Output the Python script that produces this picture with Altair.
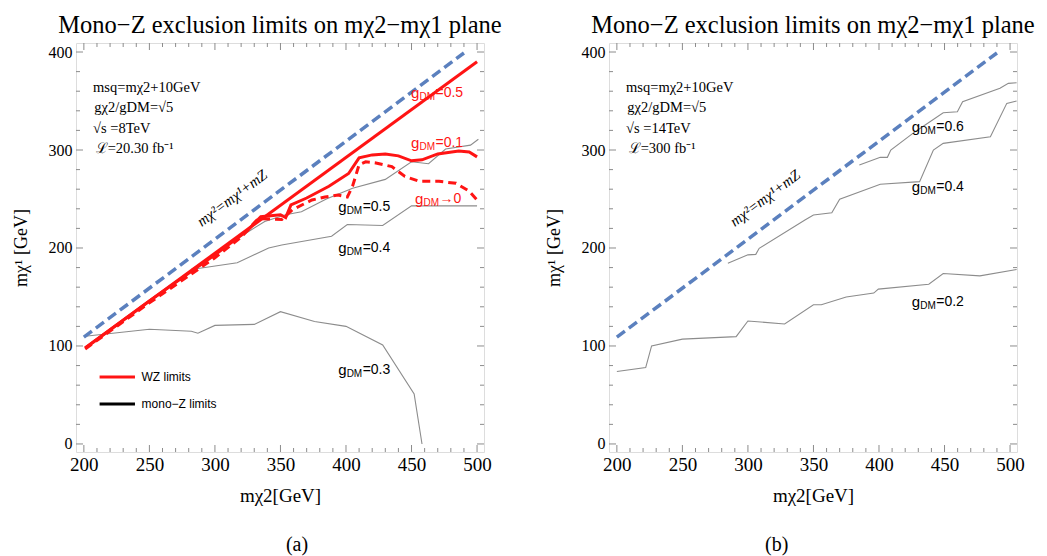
import altair as alt
import pandas as pd

# ---------------- data (GeV) ----------------
# panel (a): WZ limits (red)
a_wz05_x = [201, 500]
a_wz05_y = [98, 390]
a_wz01_x = [201, 250, 300, 325, 335, 350, 354, 358, 370, 387, 402, 410, 420, 430, 440, 450, 458, 470, 486, 494, 500]
a_wz01_y = [98, 146, 193, 218, 232, 234, 231, 244, 251, 263, 276, 292, 295, 296, 294, 289, 290, 296, 299, 298, 293]
a_wz0_x = [201, 250, 300, 320, 333, 351, 359, 374, 384, 394, 401, 405, 410, 415, 422, 435, 445, 456, 471, 484, 494, 500]
a_wz0_y = [97, 144, 190, 211, 230, 229, 239, 249, 252, 254, 252, 263, 285, 288, 287, 283, 273, 268, 268, 266, 258, 249]
# panel (a): mono-Z limits (gray)
a_mz05_x = [282, 320, 338, 354, 366, 385, 405, 430, 450, 463, 476, 495, 501]
a_mz05_y = [178, 212, 227, 234, 237, 250, 261, 270, 288, 286, 301, 305, 311]
a_mz04_x = [282, 317, 341, 351, 389, 401, 428, 450, 500]
a_mz04_y = [178, 185, 200, 203, 212, 224, 223, 243, 243]
a_mz03_x = [201, 250, 282, 287, 300, 330, 350, 376, 400, 428, 452, 458]
a_mz03_y = [110, 117, 115, 113, 121, 122, 135, 125, 120, 101, 51, 0]
# panel (b): mono-Z projections (gray)
b_mz06_x = [385, 401, 406.4, 409, 427.6, 449, 459.8, 463.8, 492.3, 498.7, 505]
b_mz06_y = [284.7, 292.5, 292.5, 300, 318.7, 338, 339, 349.3, 363, 368, 368.7]
b_mz04_x = [284.7, 300, 306, 308.6, 343.5, 350, 364, 370, 401, 431, 441.5, 449, 485, 497.5, 505]
b_mz04_y = [184.5, 193, 193.5, 199.7, 228.6, 233.7, 236, 249.7, 265, 267.7, 300, 306.8, 313.6, 347.6, 350]
b_mz02_x = [200, 222, 226.5, 250, 291, 300, 328, 350, 356, 375, 396, 399.5, 438, 449, 477, 505]
b_mz02_y = [74, 78, 100, 107, 109.5, 125.5, 122.5, 142, 142, 150, 154, 158, 163, 174, 171.5, 178]
# kinematic line m_chi2 = m_chi1 + m_Z
kin_x = [200, 490]
kin_y = [109, 399]

# tick values
x_major = [200, 250, 300, 350, 400, 450, 500]
x_minor = [v for v in range(200, 501, 10) if v % 50 != 0]
y_major = [0, 100, 200, 300, 400]
y_minor = [v for v in range(0, 401, 20) if v % 100 != 0]

# labels
title_txt = "Mono\u2212Z exclusion limits on m\u03c72\u2212m\u03c71 plane"
xtitle = "m\u03c72[GeV]"
ytitle = "m\u03c7\u00b9 [GeV]"
kin_label = "m\u03c7\u00b2=m\u03c7\u00b9+mZ"

a_info = ["msq=m\u03c72+10GeV", "g\u03c72/gDM=\u221a5", "\u221as =8TeV", "\u2112=20.30 fb\u207b\u00b9"]
b_info = ["msq=m\u03c72+10GeV", "g\u03c72/gDM=\u221a5", "\u221as =14TeV", "\u2112=300 fb\u207b\u00b9"]
info_x = [207, 208, 207, 209]
info_y = [363, 343, 321, 301]

a_lab_rest = ["=0.5", "=0.1", "\u21920", "=0.5", "=0.4", "=0.3"]
a_lab_x = [449.6, 449.6, 452.7, 394, 394, 394]
a_lab_y = [358, 307, 250, 242, 200, 75]
a_lab_col = ["red", "red", "red", "black", "black", "black"]
b_lab_rest = ["=0.6", "=0.4", "=0.2"]
b_lab_x = [425, 425, 425]
b_lab_y = [323, 262.5, 145]
b_lab_col = ["black", "black", "black"]

leg_text = ["WZ limits", "mono\u2212Z limits"]
leg_col = ["red", "black"]
leg_y = [68.4, 40.8]

# ---------------- style ----------------
W, H = 408, 409
RED = "#ff1414"
BLUE = "#5b80be"
GRAY = "#8c8c8c"
SERIF = "Liberation Serif"
SANS = "Liberation Sans"
xs = alt.Scale(domain=[194, 505.3], nice=False, zero=False)
ys = alt.Scale(domain=[-8.2, 409.2], nice=False, zero=False)
cscale = alt.Scale(domain=["red", "black"], range=[RED, "black"])


def series_df(pairs):
    rows = []
    for name, xv, yv in pairs:
        for i, (a, b) in enumerate(zip(xv, yv)):
            rows.append({"s": name, "i": i, "x": a, "y": b})
    return pd.DataFrame(rows)


def tick_layers():
    layers = []
    for vals, ln in ((x_major, 7), (x_minor, 4)):
        d = pd.DataFrame({"v": vals})
        layers.append(alt.Chart(d).mark_rule(color=GRAY, strokeWidth=1).encode(
            x=alt.X("v:Q", scale=xs), y=alt.value(H), y2=alt.value(H - ln)))
        layers.append(alt.Chart(d).mark_rule(color=GRAY, strokeWidth=1).encode(
            x=alt.X("v:Q", scale=xs), y=alt.value(0), y2=alt.value(ln)))
    for vals, ln in ((y_major, 7), (y_minor, 4)):
        d = pd.DataFrame({"v": vals})
        layers.append(alt.Chart(d).mark_rule(color=GRAY, strokeWidth=1).encode(
            y=alt.Y("v:Q", scale=ys), x=alt.value(0), x2=alt.value(ln)))
        layers.append(alt.Chart(d).mark_rule(color=GRAY, strokeWidth=1).encode(
            y=alt.Y("v:Q", scale=ys), x=alt.value(W), x2=alt.value(W - ln)))
    return layers


XAX = alt.Axis(values=x_major, ticks=False, domain=False, grid=False,
               labelFont=SERIF, labelFontSize=19, labelColor="black", labelPadding=3,
               title=xtitle, titleFont=SERIF, titleFontSize=19, titleFontWeight="normal",
               titleColor="black", titlePadding=12)
YAX = alt.Axis(values=y_major, ticks=False, domain=False, grid=False,
               labelFont=SERIF, labelFontSize=16, labelColor="black", labelPadding=4,
               title=ytitle, titleFont=SERIF, titleFontSize=18, titleFontWeight="normal",
               titleColor="black", titlePadding=18)


def panel(gray_pairs, red_solid, red_dash, info, labels, caption, caption_x, legend):
    layers = []
    # gray mono-Z curves (carry the axes)
    gdf = series_df(gray_pairs)
    layers.append(alt.Chart(gdf).mark_line(color=GRAY, strokeWidth=1.1).encode(
        x=alt.X("x:Q", scale=xs, axis=XAX), y=alt.Y("y:Q", scale=ys, axis=YAX),
        detail="s:N", order="i:Q"))
    layers.append(alt.Chart(pd.DataFrame({"x": kin_x, "y": kin_y})).mark_line(
        color=BLUE, strokeWidth=3.5, strokeDash=[10, 5]).encode(
        x=alt.X("x:Q", scale=xs), y=alt.Y("y:Q", scale=ys)))
    if red_dash:
        layers.append(alt.Chart(series_df(red_dash)).mark_line(
            color=RED, strokeWidth=3, strokeDash=[8, 5]).encode(
            x=alt.X("x:Q", scale=xs), y=alt.Y("y:Q", scale=ys),
            detail="s:N", order="i:Q"))
    if red_solid:
        layers.append(alt.Chart(series_df(red_solid)).mark_line(
            color=RED, strokeWidth=3).encode(
            x=alt.X("x:Q", scale=xs), y=alt.Y("y:Q", scale=ys),
            detail="s:N", order="i:Q"))
    # info text
    idf = pd.DataFrame({"x": info_x, "y": info_y, "t": info})
    layers.append(alt.Chart(idf).mark_text(align="left", baseline="middle", font=SERIF,
                                           fontSize=14.5, color="black").encode(
        x=alt.X("x:Q", scale=xs), y=alt.Y("y:Q", scale=ys), text="t:N"))
    # kinematic label
    kdf = pd.DataFrame({"x": [313], "y": [251], "t": [kin_label]})
    layers.append(alt.Chart(kdf).mark_text(align="center", baseline="middle", font=SERIF,
                                           fontStyle="italic", fontSize=15, angle=323,
                                           color="black").encode(
        x=alt.X("x:Q", scale=xs), y=alt.Y("y:Q", scale=ys), text="t:N"))
    # curve labels g_DM = ...
    ldf = pd.DataFrame({"x": labels[1], "y": labels[2], "r": labels[0], "c": labels[3],
                        "g": ["g"] * len(labels[0]), "sub": ["DM"] * len(labels[0])})
    col = alt.Color("c:N", scale=cscale, legend=None)
    layers.append(alt.Chart(ldf).mark_text(align="left", baseline="middle", font=SANS,
                                           fontSize=15).encode(
        x=alt.X("x:Q", scale=xs), y=alt.Y("y:Q", scale=ys), text="g:N", color=col))
    layers.append(alt.Chart(ldf).mark_text(align="left", baseline="middle", font=SANS,
                                           fontSize=10, dx=8.5, dy=4).encode(
        x=alt.X("x:Q", scale=xs), y=alt.Y("y:Q", scale=ys), text="sub:N", color=col))
    layers.append(alt.Chart(ldf).mark_text(align="left", baseline="middle", font=SANS,
                                           fontSize=14, dx=24.5).encode(
        x=alt.X("x:Q", scale=xs), y=alt.Y("y:Q", scale=ys), text="r:N", color=col))
    # legend
    if legend:
        gdf2 = pd.DataFrame({"x": [212] * 2, "x2": [239] * 2, "y": leg_y, "c": leg_col,
                             "t": leg_text, "xt": [244] * 2})
        layers.append(alt.Chart(gdf2).mark_rule(strokeWidth=3).encode(
            x=alt.X("x:Q", scale=xs), x2="x2:Q", y=alt.Y("y:Q", scale=ys),
            color=alt.Color("c:N", scale=cscale, legend=None)))
        layers.append(alt.Chart(gdf2).mark_text(align="left", baseline="middle", font=SANS,
                                                fontSize=12, color="black").encode(
            x=alt.X("xt:Q", scale=xs), y=alt.Y("y:Q", scale=ys), text="t:N"))
    # caption
    cdf = pd.DataFrame({"x": [caption_x], "t": [caption]})
    layers.append(alt.Chart(cdf).mark_text(align="center", baseline="middle", font=SERIF,
                                           fontSize=20, color="black").encode(
        x=alt.X("x:Q", scale=xs), y=alt.value(H + 93), text="t:N"))
    layers += tick_layers()
    return alt.layer(*layers).properties(
        width=W, height=H,
        title=alt.TitleParams(title_txt, font=SERIF, fontSize=24.5, fontWeight="normal",
                              color="black", anchor="middle", offset=4))


left = panel(
    [("0.5", a_mz05_x, a_mz05_y), ("0.4", a_mz04_x, a_mz04_y), ("0.3", a_mz03_x, a_mz03_y)],
    [("0.5", a_wz05_x, a_wz05_y), ("0.1", a_wz01_x, a_wz01_y)],
    [("0", a_wz0_x, a_wz0_y)],
    a_info, (a_lab_rest, a_lab_x, a_lab_y, a_lab_col), "(a)", 362.6, True)
right = panel(
    [("0.6", b_mz06_x, b_mz06_y), ("0.4", b_mz04_x, b_mz04_y), ("0.2", b_mz02_x, b_mz02_y)],
    [], [],
    b_info, (b_lab_rest, b_lab_x, b_lab_y, b_lab_col), "(b)", 322, False)

chart = alt.hconcat(left, right, spacing=125, bounds="flush").properties(
    padding={"left": 3, "top": 4, "right": 0, "bottom": 0}
).configure_view(stroke=GRAY, strokeWidth=1).configure(background="white")

chart.save("out.html", embed_options={"renderer": "svg", "actions": False})
